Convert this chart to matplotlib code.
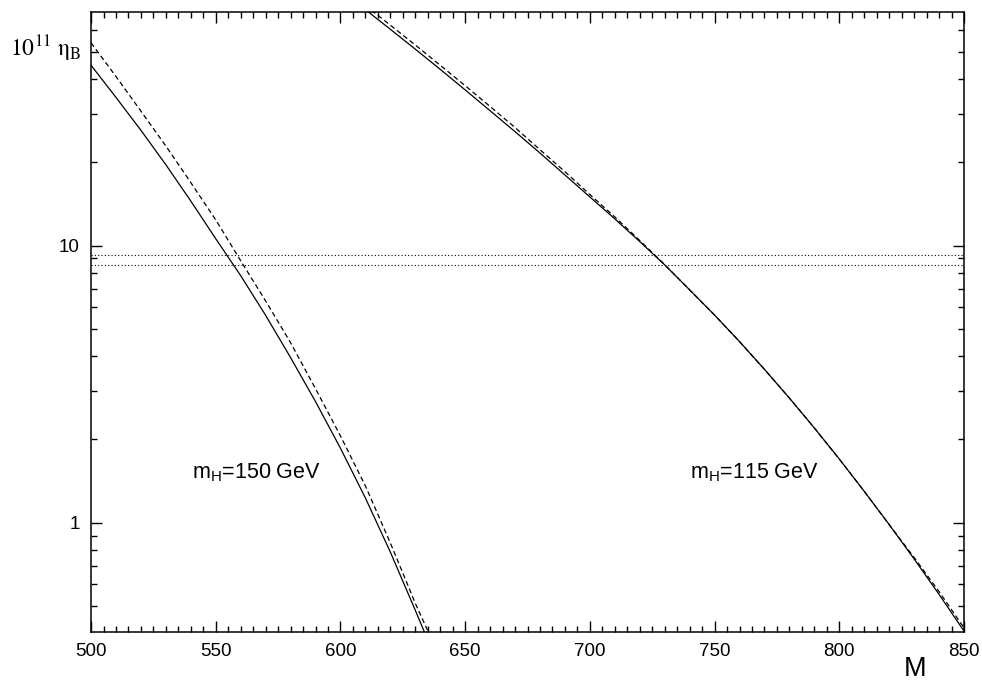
import numpy as np
import matplotlib
matplotlib.use("Agg")
import matplotlib.pyplot as plt
from matplotlib.ticker import LogLocator, MultipleLocator, FixedLocator, NullFormatter

# m_H = 150 GeV, solid and dashed
m_150 = [500, 510, 520, 530, 540, 550, 560, 570, 580, 590, 600, 610, 620, 630, 636]
eta_150_solid = [44.8, 34.3, 26.1, 19.6, 14.5, 10.6, 7.8, 5.61, 3.95, 2.74, 1.86, 1.23, 0.785, 0.484, 0.36]
eta_150_dashed = [54.0, 40.8, 30.6, 22.9, 16.9, 12.4, 8.83, 6.32, 4.47, 3.05, 2.06, 1.36, 0.847, 0.513, 0.39]

# m_H = 115 GeV, solid and dashed
m_115 = [605, 610, 620, 630, 640, 650, 660, 670, 680, 690, 700, 710, 720, 730,
         740, 750, 760, 770, 780, 790, 800, 810, 820, 830, 840, 850]
eta_115_solid = [80.0, 71.1, 60.4, 51.2, 43.3, 36.5, 30.7, 25.8, 21.6, 18.0, 15.0, 12.5,
                 10.35, 8.53, 6.93, 5.62, 4.51, 3.58, 2.82, 2.20, 1.70, 1.30, 0.986, 0.741, 0.552, 0.407]
eta_115_dashed = [83.0, 73.6, 62.5, 53.0, 44.8, 37.8, 31.8, 26.7, 22.2, 18.5, 15.3, 12.7,
                  10.45, 8.55, 6.93, 5.62, 4.51, 3.58, 2.82, 2.20, 1.70, 1.30, 0.986, 0.75, 0.565, 0.418]

# observed band
eta_band = [9.28, 8.49]

plt.rcParams["font.family"] = ["Liberation Sans", "DejaVu Sans"]

fig = plt.figure(figsize=(9.82, 6.84), dpi=100)
ax = fig.add_axes([0.0927, 0.076, 0.889, 0.9064])

ax.plot(m_150, eta_150_solid, color="black", lw=0.9)
ax.plot(m_150, eta_150_dashed, color="black", lw=0.9, linestyle=(0, (4, 2.5)))
ax.plot(m_115, eta_115_solid, color="black", lw=0.9)
ax.plot(m_115, eta_115_dashed, color="black", lw=0.9, linestyle=(0, (4, 2.5)))

for v in eta_band:
    ax.axhline(v, color="black", lw=0.8, linestyle=(0, (1, 2)))

ax.set_yscale("log")
ax.set_xlim(500, 850)
ax.set_ylim(0.404, 69.7)

ax.xaxis.set_major_locator(MultipleLocator(50))
ax.xaxis.set_minor_locator(MultipleLocator(5))
ax.yaxis.set_major_locator(FixedLocator([1, 10]))
ax.yaxis.set_major_formatter(plt.FuncFormatter(lambda v, p: "%g" % v))
ax.yaxis.set_minor_locator(LogLocator(base=10, subs=np.arange(2, 10)))
ax.yaxis.set_minor_formatter(NullFormatter())

ax.tick_params(which="both", direction="in", top=True, right=True, width=1.0,
               labelsize=13.5)
ax.tick_params(which="major", length=8, pad=8)
ax.tick_params(which="minor", length=4)
for s in ax.spines.values():
    s.set_linewidth(1.1)

ax.text(540.5, 1.45, r"m$_{\mathregular{H}}$=150 GeV", fontsize=15.5, va="baseline", ha="left")
ax.text(740.3, 1.45, r"m$_{\mathregular{H}}$=115 GeV", fontsize=15.5, va="baseline", ha="left")

fig.text(0.932, 0.012, "M", fontsize=19.5, ha="center", va="baseline")
fig.text(0.010, 0.918, r"$10^{11}\ \mathrm{\eta}_{\mathrm{B}}$", fontsize=17, ha="left",
         va="baseline", math_fontfamily="stix")

fig.savefig("out.png", dpi=100)
